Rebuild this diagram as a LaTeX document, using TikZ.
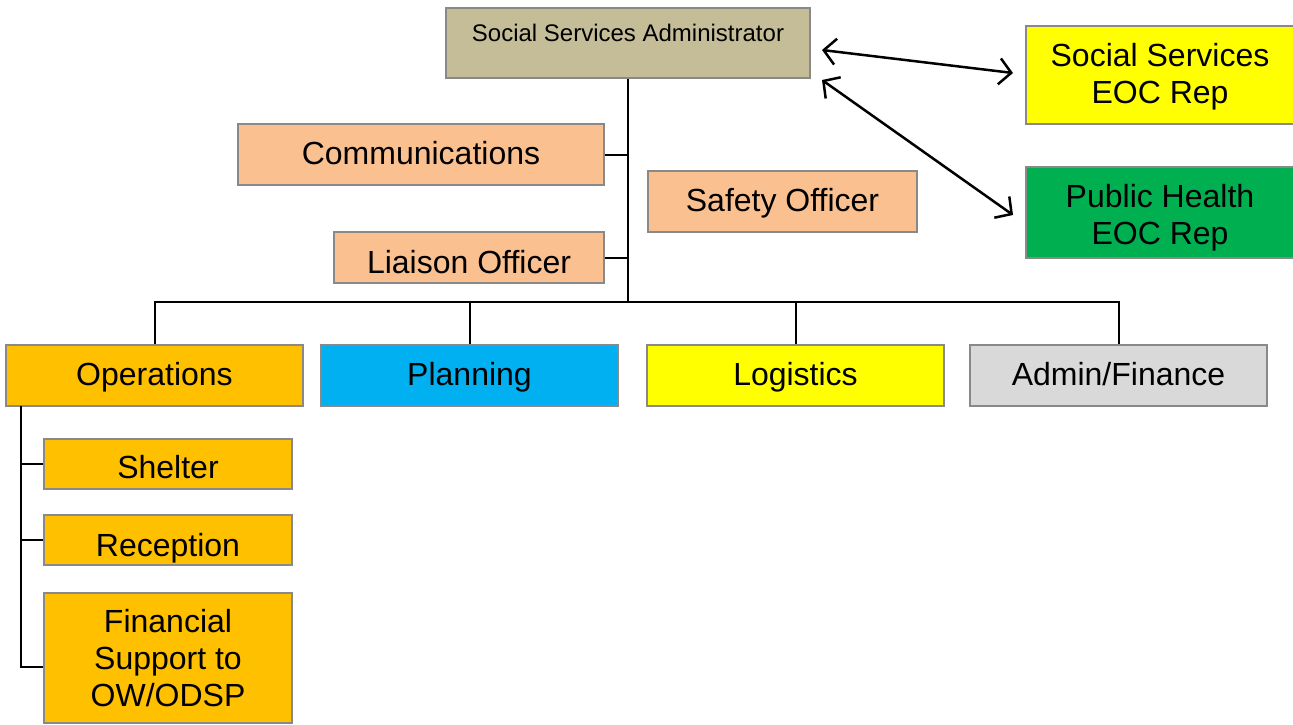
\documentclass[tikz,border=0pt]{standalone}
\usepackage{fontspec}
\setmainfont{Liberation Sans}
\usetikzlibrary{arrows.meta}
\definecolor{tanc}{HTML}{C4BD97}
\definecolor{peach}{HTML}{FAC090}
\definecolor{orangec}{HTML}{FFC000}
\definecolor{bluec}{HTML}{00B0F0}
\definecolor{yellowc}{HTML}{FFFF00}
\definecolor{greenc}{HTML}{00B050}
\definecolor{grayc}{HTML}{D9D9D9}
\definecolor{borderc}{HTML}{898989}
\tikzset{
  box/.style={draw=borderc, line width=1.5pt, rectangle, inner sep=0pt, align=center,
    font=\fontsize{32}{37}\selectfont, text height=26pt, text depth=6pt},
  conn/.style={draw=black, line width=2pt},
  dbl/.style={draw=black, line width=2.5pt, {Straight Barb[length=12pt,width=26pt]}-{Straight Barb[length=12pt,width=26pt]}}
}
\begin{document}
\begin{tikzpicture}[x=1pt,y=-1pt]
\useasboundingbox (0,0) rectangle (1293,725);
% top
\node[box, fill=tanc, minimum width=364, minimum height=70, font=\fontsize{24}{28}\selectfont, text height=17pt, text depth=19pt] (adm) at (628,43) {Social Services Administrator};
\node[box, fill=yellowc, minimum width=268, minimum height=98, text height=60pt, text depth=3pt] (sseoc) at (1160,75) {Social Services\\EOC Rep};
\node[box, fill=greenc, minimum width=268, minimum height=91, text height=64pt, text depth=0pt] (pheoc) at (1160,212.5) {Public Health\\EOC Rep};
% staff
\node[box, fill=peach, minimum width=366, minimum height=61] (comm) at (421,154.5) {Communications};
\node[box, fill=peach, minimum width=269, minimum height=61] (saf) at (782.5,201.5) {Safety Officer};
\node[box, fill=peach, minimum width=270, minimum height=51, text height=32pt, text depth=0pt] (lia) at (469,257.5) {Liaison Officer};
% sections
\node[box, fill=orangec, minimum width=297, minimum height=61] (op) at (154.5,375.5) {Operations};
\node[box, fill=bluec, minimum width=297, minimum height=61] (pl) at (469.5,375.5) {Planning};
\node[box, fill=yellowc, minimum width=297, minimum height=61] (lg) at (795.5,375.5) {Logistics};
\node[box, fill=grayc, minimum width=297, minimum height=61] (af) at (1118.5,375.5) {Admin/Finance};
% operations units
\node[box, fill=orangec, minimum width=248, minimum height=50, text height=29pt, text depth=0pt] (sh) at (168,464) {Shelter};
\node[box, fill=orangec, minimum width=248, minimum height=50, text height=33pt, text depth=0pt] (rc) at (168,540) {Reception};
\node[box, fill=orangec, minimum width=248, minimum height=130, text height=97pt, text depth=0pt] (fin) at (168,658) {Financial\\Support to\\OW/ODSP};
% connectors
\coordinate (hub) at (628,302);
\draw[conn] (adm.south) -- (hub);
\draw[conn] (comm.east) -- (comm.east -| hub);
\draw[conn] (lia.east) -- (lia.east -| hub);
\draw[conn] (hub) -| (op.north);
\draw[conn] (hub) -| (af.north);
\draw[conn] (pl.north) -- (pl.north |- hub);
\draw[conn] (lg.north) -- (lg.north |- hub);
\coordinate (opx) at (21,406);
\draw[conn] (opx) |- ([yshift=-9pt]fin.west);
\draw[conn] (opx |- sh.west) -- (sh.west);
\draw[conn] (opx |- rc.west) -- (rc.west);
% arrows
\coordinate (a1s) at (822,50);
\coordinate (a1e) at (1013,73);
\coordinate (a2s) at (822,80);
\coordinate (a2e) at (1013,215);
\draw[dbl] (a1s) -- (a1e);
\draw[dbl] (a2s) -- (a2e);
\end{tikzpicture}
\end{document}
